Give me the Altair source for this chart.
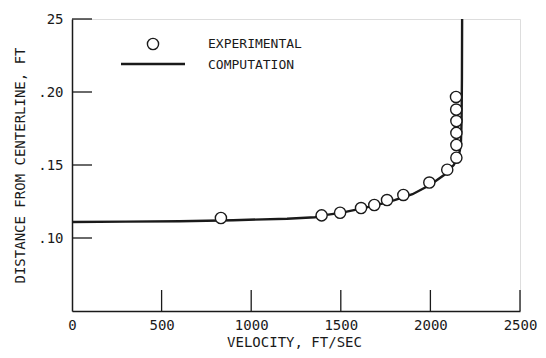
import altair as alt
import pandas as pd

# Experimental points
exp_v = [831, 1393, 1496, 1613, 1687, 1758, 1849, 1994, 2094, 2145, 2145, 2145, 2145, 2144, 2143]
exp_y = [0.1137, 0.1155, 0.1173, 0.1205, 0.1226, 0.1260, 0.1295, 0.1380, 0.1468,
         0.1550, 0.1637, 0.1720, 0.1801, 0.1880, 0.1966]

# Computation curve
comp_v = [0, 300, 600, 900, 1200, 1356, 1400, 1500, 1600, 1700, 1800, 1900, 2000,
          2080, 2130, 2158, 2170, 2174, 2176, 2177]
comp_y = [0.1110, 0.1112, 0.1115, 0.1122, 0.1132, 0.1142, 0.1155, 0.1172, 0.1198,
          0.1225, 0.1260, 0.1300, 0.1365, 0.1435, 0.1500, 0.1560, 0.1640, 0.1800,
          0.2100, 0.2500]

x_ticks = [0, 500, 1000, 1500, 2000, 2500]
y_ticks = [0.10, 0.15, 0.20, 0.25]

legend_labels = ["EXPERIMENTAL", "COMPUTATION"]

FONT = "DejaVu Sans Mono"
INK = "#1a1a1a"
W, H = 448, 292

exp_df = pd.DataFrame({"v": exp_v, "y": exp_y})
comp_df = pd.DataFrame({"v": comp_v, "y": comp_y, "o": list(range(len(comp_v)))})
xt_df = pd.DataFrame({"v": x_ticks[1:]})
yt_df = pd.DataFrame({"y": y_ticks})

label_expr = ("datum.value == 0.25 ? '25' : (datum.value == 0.2 ? '.20' : "
              "(datum.value == 0.15 ? '.15' : (datum.value == 0.1 ? '.10' : '')))")

xscale = alt.Scale(domain=[0, 2500], nice=False, zero=False)
yscale = alt.Scale(domain=[0.05, 0.25], nice=False, zero=False)

xaxis = alt.Axis(values=x_ticks, format="d", ticks=False, tickSize=0, grid=False,
                 labelPadding=14, labelBaseline="middle", labelFont=FONT, labelFontSize=14,
                 labelColor=INK, domainColor=INK, domainWidth=1.5, title="VELOCITY, FT/SEC",
                 titleFont=FONT, titleFontSize=14, titleFontWeight="normal", titleColor=INK,
                 titleX=222, titleY=31, titleBaseline="middle", titleAlign="center",
                 labelFlush=False)
yaxis = alt.Axis(values=y_ticks, ticks=False, tickSize=0, grid=False, labelPadding=9,
                 labelExpr=label_expr, labelBaseline="middle", labelFont=FONT,
                 labelFontSize=14, labelColor=INK, domainColor=INK, domainWidth=1.5,
                 title="DISTANCE FROM CENTERLINE, FT", titleFont=FONT, titleFontSize=14,
                 titleFontWeight="normal", titleColor=INK, titleAngle=270,
                 titleX=-52, titleY=146, titleAlign="center", titleBaseline="middle",
                 labelFlush=False)

line = alt.Chart(comp_df).mark_line(color=INK, strokeWidth=2.4, clip=True).encode(
    x=alt.X("v:Q", scale=xscale, axis=xaxis),
    y=alt.Y("y:Q", scale=yscale, axis=yaxis),
    order="o:Q",
)

points = alt.Chart(exp_df).mark_point(shape="circle", filled=False, fill="white",
                                      fillOpacity=1, stroke=INK, strokeWidth=1.4,
                                      size=125, opacity=1).encode(
    x=alt.X("v:Q", scale=xscale),
    y=alt.Y("y:Q", scale=yscale),
)

xticks = alt.Chart(xt_df).mark_rule(color=INK, strokeWidth=1.3).encode(
    x=alt.X("v:Q", scale=xscale),
    y=alt.value(H),
    y2=alt.value(H - 21),
)

yticks = alt.Chart(yt_df).mark_rule(color=INK, strokeWidth=1.3).encode(
    y=alt.Y("y:Q", scale=yscale),
    x=alt.value(0),
    x2=alt.value(20),
)

leg_sym = alt.Chart(pd.DataFrame({"a": [0]})).mark_point(
    shape="circle", filled=False, stroke=INK, strokeWidth=1.4, size=125, opacity=1
).encode(x=alt.value(81), y=alt.value(25))

leg_line = alt.Chart(pd.DataFrame({"a": [0]})).mark_rule(color=INK, strokeWidth=2.4).encode(
    x=alt.value(49), x2=alt.value(113), y=alt.value(45)
)

leg_text1 = alt.Chart(pd.DataFrame({"t": [legend_labels[0]]})).mark_text(
    font=FONT, fontSize=13, color=INK, align="left", baseline="middle"
).encode(text="t:N", x=alt.value(136), y=alt.value(25))

leg_text2 = alt.Chart(pd.DataFrame({"t": [legend_labels[1]]})).mark_text(
    font=FONT, fontSize=13, color=INK, align="left", baseline="middle"
).encode(text="t:N", x=alt.value(136), y=alt.value(46))

chart = alt.layer(line, points, xticks, yticks, leg_sym, leg_line, leg_text1, leg_text2).properties(
    width=W, height=H,
    autosize=alt.AutoSizeParams(type="none"),
    padding={"left": 64, "top": 11, "right": 18, "bottom": 39},
).configure_view(stroke="transparent", strokeWidth=0).configure(background="white")

chart.save("out.html", embed_options={"renderer": "svg", "actions": False})
